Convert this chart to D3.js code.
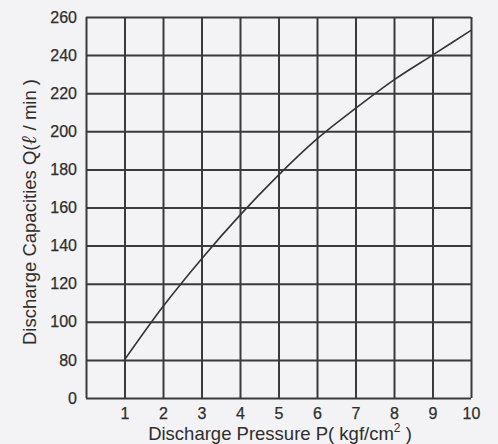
<!DOCTYPE html>
<html>
<head>
<meta charset="utf-8">
<script src="https://cdn.jsdelivr.net/npm/d3@7"></script>
<style>
  body { margin: 0; background: #f3f2f4; }
  svg { display: block; }
</style>
</head>
<body>
<div id="chart"></div>
<script>
// values
const pressure = [1, 2, 3, 4, 5, 6, 7, 8, 9, 10];
const capacity = [80, 108, 133, 156, 177, 196, 212, 227, 240, 253];
const xTicks = [1, 2, 3, 4, 5, 6, 7, 8, 9, 10];
// the y axis is broken: the row below 80 stands for 0
const yTicks = [60, 80, 100, 120, 140, 160, 180, 200, 220, 240, 260];
const yTickLabels = ['0', '80', '100', '120', '140', '160', '180', '200', '220', '240', '260'];

const width = 498;
const height = 444;
const margin = { top: 17, right: 27, bottom: 46, left: 86 };
const font = 'Liberation Sans, Arial, sans-serif';
const textColour = '#2e2e2e';

const x = d3.scaleLinear().domain([0, 10]).range([margin.left, width - margin.right]);
const y = d3.scaleLinear().domain([60, 260]).range([height - margin.bottom, margin.top]);

const svg = d3
  .select('#chart')
  .append('svg')
  .attr('width', width)
  .attr('height', height);

svg
  .append('rect')
  .attr('width', width)
  .attr('height', height)
  .attr('fill', '#f3f2f4');

const gridColour = '#3a3a3a';

// grid, drawn with the axes' own tick positions
svg
  .append('g')
  .attr('transform', `translate(0,${margin.top})`)
  .call(
    d3.axisBottom(x)
      .tickValues([0].concat(xTicks))
      .tickSize(height - margin.top - margin.bottom)
      .tickFormat('')
  )
  .call(g => g.select('.domain').remove())
  .call(g => g.selectAll('line').attr('stroke', gridColour).attr('stroke-width', 2));

svg
  .append('g')
  .attr('transform', `translate(${margin.left},0)`)
  .call(
    d3.axisRight(y)
      .tickValues(yTicks)
      .tickSize(width - margin.left - margin.right)
      .tickFormat('')
  )
  .call(g => g.select('.domain').remove())
  .call(g => g.selectAll('line').attr('stroke', gridColour).attr('stroke-width', 2));

// tick labels
svg
  .append('g')
  .attr('transform', `translate(0,${height - margin.bottom})`)
  .call(d3.axisBottom(x).tickValues(xTicks).tickSize(0).tickPadding(10))
  .call(g => g.select('.domain').remove())
  .call(g =>
    g.selectAll('text')
      .attr('font-family', font)
      .attr('font-size', 16)
      .attr('fill', textColour)
      .attr('stroke', textColour)
      .attr('stroke-width', 0.25)
  );

svg
  .append('g')
  .attr('transform', `translate(${margin.left},0)`)
  .call(
    d3.axisLeft(y)
      .tickValues(yTicks)
      .tickSize(0)
      .tickPadding(9)
      .tickFormat((d, i) => yTickLabels[i])
  )
  .call(g => g.select('.domain').remove())
  .call(g =>
    g.selectAll('text')
      .attr('font-family', font)
      .attr('font-size', 16)
      .attr('fill', textColour)
      .attr('stroke', textColour)
      .attr('stroke-width', 0.25)
  );

// curve
const line = d3
  .line()
  .x((d, i) => x(pressure[i]))
  .y(d => y(d))
  .curve(d3.curveMonotoneX);

svg
  .append('path')
  .datum(capacity)
  .attr('fill', 'none')
  .attr('stroke', '#333')
  .attr('stroke-width', 1.6)
  .attr('d', line);

// axis titles
svg
  .append('text')
  .attr('x', 280)
  .attr('y', 440)
  .attr('text-anchor', 'middle')
  .attr('font-family', font)
  .attr('font-size', 18.5)
  .attr('fill', textColour)
  .call(t => {
    t.append('tspan').text('Discharge Pressure P( kgf/cm');
    t.append('tspan').attr('font-size', 12).attr('dy', -8).text('2');
    t.append('tspan').attr('dy', 8).text(' )');
  });

svg
  .append('text')
  .attr('transform', 'translate(36,212) rotate(-90)')
  .attr('text-anchor', 'middle')
  .attr('font-family', font)
  .attr('font-size', 18.5)
  .attr('fill', textColour)
  .call(t => {
    t.append('tspan').text('Discharge Capacities Q(');
    t.append('tspan')
      .attr('font-weight', 'bold')
      .attr('font-style', 'italic')
      .attr('font-family', 'DejaVu Serif, serif')
      .attr('font-size', 21)
      .text('ℓ');
    t.append('tspan').text(' / min )');
  });
</script>
</body>
</html>
